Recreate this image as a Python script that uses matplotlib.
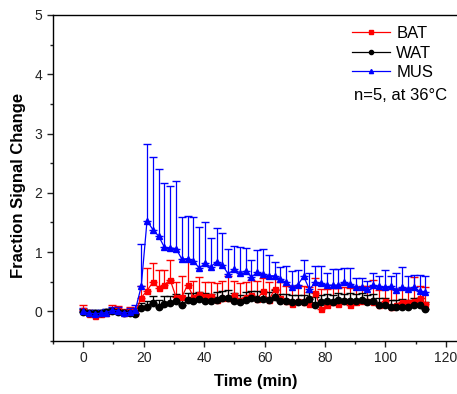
import numpy as np
import matplotlib
matplotlib.use("Agg")
import matplotlib.pyplot as plt
from matplotlib.ticker import MultipleLocator

plt.rcParams['font.family'] = ['Liberation Sans', 'DejaVu Sans']

step = 1.92
n_points = 60
time = np.arange(n_points) * step

bat = [0.03, -0.04, -0.08, -0.05, -0.03, 0.03, 0.02, -0.02, 0.01, -0.02,
       0.23, 0.35, 0.49, 0.40, 0.45, 0.53, 0.24, 0.24, 0.45, 0.24,
       0.29, 0.26, 0.26, 0.19, 0.22, 0.22, 0.27, 0.20, 0.24, 0.28,
       0.21, 0.34, 0.19, 0.37, 0.23, 0.17, 0.13, 0.18, 0.15, 0.13,
       0.31, 0.04, 0.10, 0.15, 0.13, 0.17, 0.10, 0.15, 0.18, 0.17,
       0.15, 0.10, 0.17, 0.07, 0.10, 0.15, 0.15, 0.17, 0.23, 0.13]
bat_err = [0.08, 0.07, 0.07, 0.06, 0.06, 0.07, 0.07, 0.06, 0.07, 0.07,
           0.20, 0.38, 0.33, 0.30, 0.25, 0.33, 0.25, 0.35, 0.40, 0.27,
           0.29, 0.23, 0.23, 0.29, 0.29, 0.37, 0.24, 0.28, 0.26, 0.25,
           0.30, 0.22, 0.30, 0.19, 0.27, 0.26, 0.30, 0.24, 0.27, 0.28,
           0.25, 0.33, 0.27, 0.25, 0.26, 0.24, 0.30, 0.25, 0.24, 0.26,
           0.38, 0.26, 0.24, 0.30, 0.27, 0.25, 0.24, 0.41, 0.19, 0.28]

wat = [-0.01, -0.03, -0.03, -0.02, -0.01, 0.00, -0.01, -0.03, -0.03, -0.04,
       0.06, 0.08, 0.14, 0.08, 0.13, 0.14, 0.17, 0.10, 0.19, 0.18,
       0.21, 0.18, 0.17, 0.20, 0.23, 0.23, 0.18, 0.15, 0.19, 0.23,
       0.21, 0.21, 0.19, 0.24, 0.17, 0.17, 0.15, 0.15, 0.15, 0.21,
       0.11, 0.15, 0.17, 0.15, 0.19, 0.17, 0.18, 0.18, 0.19, 0.15,
       0.17, 0.10, 0.10, 0.08, 0.07, 0.08, 0.08, 0.11, 0.10, 0.04]
wat_err = [0.05, 0.05, 0.05, 0.05, 0.05, 0.05, 0.05, 0.05, 0.06, 0.06,
           0.08, 0.10, 0.12, 0.12, 0.13, 0.12, 0.13, 0.12, 0.12, 0.13,
           0.12, 0.13, 0.12, 0.12, 0.12, 0.13, 0.13, 0.12, 0.13, 0.12,
           0.13, 0.12, 0.13, 0.12, 0.13, 0.12, 0.12, 0.13, 0.12, 0.12,
           0.13, 0.12, 0.12, 0.13, 0.12, 0.12, 0.13, 0.12, 0.12, 0.13,
           0.12, 0.13, 0.12, 0.12, 0.12, 0.13, 0.12, 0.12, 0.13, 0.12]

mus = [0.00, -0.03, -0.04, -0.03, -0.02, 0.02, 0.01, -0.03, -0.01, 0.03,
       0.42, 1.53, 1.38, 1.27, 1.08, 1.07, 1.06, 0.88, 0.89, 0.85,
       0.73, 0.81, 0.75, 0.84, 0.78, 0.63, 0.71, 0.65, 0.68, 0.58,
       0.66, 0.63, 0.60, 0.60, 0.54, 0.49, 0.41, 0.45, 0.59, 0.37,
       0.49, 0.48, 0.44, 0.44, 0.44, 0.49, 0.46, 0.41, 0.41, 0.38,
       0.44, 0.42, 0.41, 0.42, 0.36, 0.41, 0.38, 0.41, 0.34, 0.32]
mus_err = [0.06, 0.06, 0.06, 0.06, 0.06, 0.06, 0.06, 0.06, 0.07, 0.07,
           0.71, 1.30, 1.22, 1.14, 1.08, 1.05, 1.14, 0.71, 0.72, 0.75,
           0.70, 0.69, 0.48, 0.57, 0.55, 0.42, 0.39, 0.43, 0.39, 0.28,
           0.37, 0.43, 0.35, 0.24, 0.21, 0.27, 0.27, 0.25, 0.27, 0.27,
           0.28, 0.28, 0.21, 0.28, 0.28, 0.24, 0.27, 0.15, 0.15, 0.14,
           0.21, 0.18, 0.28, 0.18, 0.28, 0.34, 0.21, 0.21, 0.28, 0.27]

labels = ["BAT", "WAT", "MUS"]
note = "n=5, at 36°C"

fig = plt.figure(figsize=(4.57, 3.94), dpi=100)
ax = fig.add_axes([53 / 457, 53 / 394, 423 / 457, 326 / 394])

series = [
    (bat, bat_err, "#ff0000", "#ff8080", "s", 3.6),
    (wat, wat_err, "#000000", "#808080", "o", 4.6),
    (mus, mus_err, "#0000ff", "#8080ff", "^", 4.6),
]
handles = []
for (vals, err, col, capcol, mk, ms), lab in zip(series, labels):
    vals = np.array(vals)
    err = np.array(err)
    eb = ax.errorbar(time, vals, yerr=[np.zeros_like(err), err], color=col,
                     marker=mk, markersize=ms, linewidth=0.9, elinewidth=0.9,
                     capsize=2.6, capthick=1.0, label=lab)
    for cl in eb[1]:
        cl.set_color(capcol)
    h, = ax.plot([], [], color=col, marker=mk, markersize=3, linewidth=0.9)
    handles.append(h)

ax.set_xlim(-10, 130)
ax.set_ylim(-0.5, 5)
ax.xaxis.set_major_locator(MultipleLocator(20))
ax.xaxis.set_minor_locator(MultipleLocator(10))
ax.yaxis.set_major_locator(MultipleLocator(1))
ax.yaxis.set_minor_locator(MultipleLocator(0.5))
ax.tick_params(which='both', direction='out', labelsize=10, colors='#222222')
ax.tick_params(which='major', length=4, width=1)
ax.tick_params(which='minor', length=2.5, width=1)
for sp in ax.spines.values():
    sp.set_linewidth(1.0)

ax.set_xlabel("Time (min)", fontsize=12, fontweight='bold')
ax.set_ylabel("Fraction Signal Change", fontsize=12, fontweight='bold')
ax.xaxis.set_label_coords(0.48, -0.1)
ax.yaxis.set_label_coords(-0.064, 0.478)

leg = fig.legend(handles, labels, loc='upper left',
                 bbox_to_anchor=(352 / 457, 1 - 26 / 394),
                 bbox_transform=fig.transFigure, frameon=False,
                 fontsize=12, handlelength=2.3, handletextpad=0.35,
                 labelspacing=0.28, borderpad=0, borderaxespad=0)
fig.text(354 / 457, 1 - 95 / 394, note, fontsize=12, va='center', ha='left')

fig.savefig("out.png", dpi=100)
